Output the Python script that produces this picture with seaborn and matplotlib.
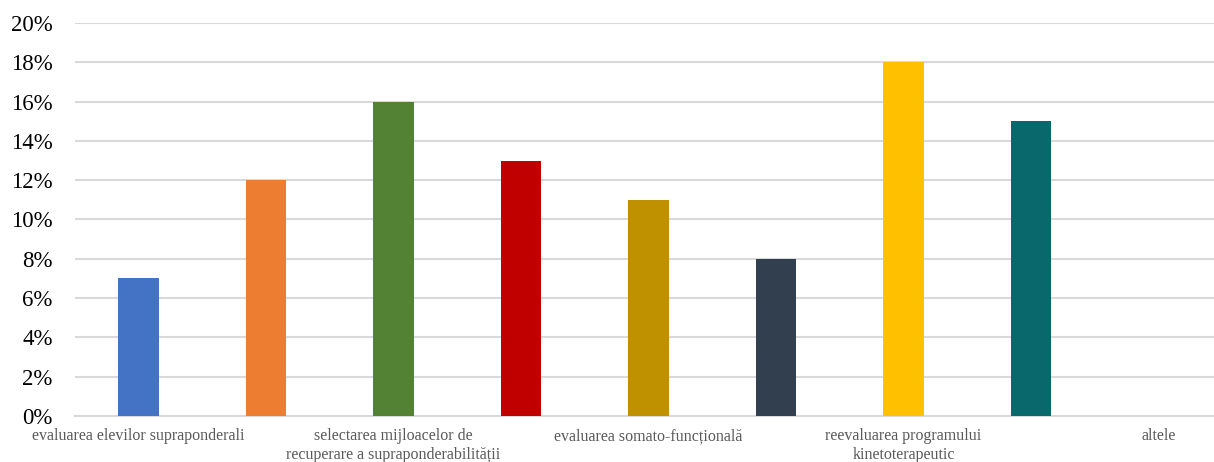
import matplotlib
matplotlib.use("Agg")
import matplotlib.pyplot as plt
import seaborn as sns
import pandas as pd
from matplotlib.ticker import FuncFormatter, MultipleLocator

# Category labels (only every other one is printed on the axis)
tick_labels = [
    "evaluarea elevilor supraponderali",
    "",
    "selectarea mijloacelor de\nrecuperare a supraponderabilității",
    "",
    "evaluarea somato-funcțională",
    "",
    "reevaluarea programului\nkinetoterapeutic",
    "",
    "altele",
]
values = [7, 12, 16, 13, 11, 8, 18, 15, 0]
bar_colors = ["#4472C4", "#ED7D31", "#548235", "#C00000", "#BF9000",
              "#323F4F", "#FFC000", "#08686B", "#A5A5A5"]

df = pd.DataFrame({"idx": [str(i) for i in range(len(values))], "value": values})

sns.set_theme(style="white")
plt.rcParams["font.family"] = ["Liberation Serif", "DejaVu Serif"]

W, H = 1214, 462
fig = plt.figure(figsize=(W / 100, H / 100), dpi=100)
left, right, top, bottom = 74.75, 1222.25, 23, 416
ax = fig.add_axes([left / W, (H - bottom) / H, (right - left) / W, (bottom - top) / H])

sns.barplot(data=df, x="idx", y="value", hue="idx", palette=bar_colors,
            legend=False, width=0.32, saturation=1, linewidth=0,
            ax=ax, zorder=3)

ax.set_xlim(-0.5, len(values) - 0.5)
ax.set_ylim(0, 20)
ax.yaxis.set_major_locator(MultipleLocator(2))
ax.yaxis.set_major_formatter(FuncFormatter(lambda v, _: f"{v:.0f}%"))
ax.grid(axis="y", color="#D9D9D9", linewidth=1.5, zorder=0)
ax.set_axisbelow(True)

ax.set_xticks(range(len(values)))
ax.set_xticklabels(tick_labels, fontsize=11.5, color="#595959", linespacing=1.2,
                   va="top", ha="center")
ax.tick_params(axis="x", length=0, pad=9)
ax.tick_params(axis="y", length=0, pad=16, labelsize=16.5, labelcolor="black")

for s in ["top", "right", "left"]:
    ax.spines[s].set_visible(False)
ax.spines["bottom"].set_color("#D9D9D9")
ax.spines["bottom"].set_linewidth(1.5)

ax.set_xlabel("")
ax.set_ylabel("")

fig.savefig("out.png", dpi=100, facecolor="white")
